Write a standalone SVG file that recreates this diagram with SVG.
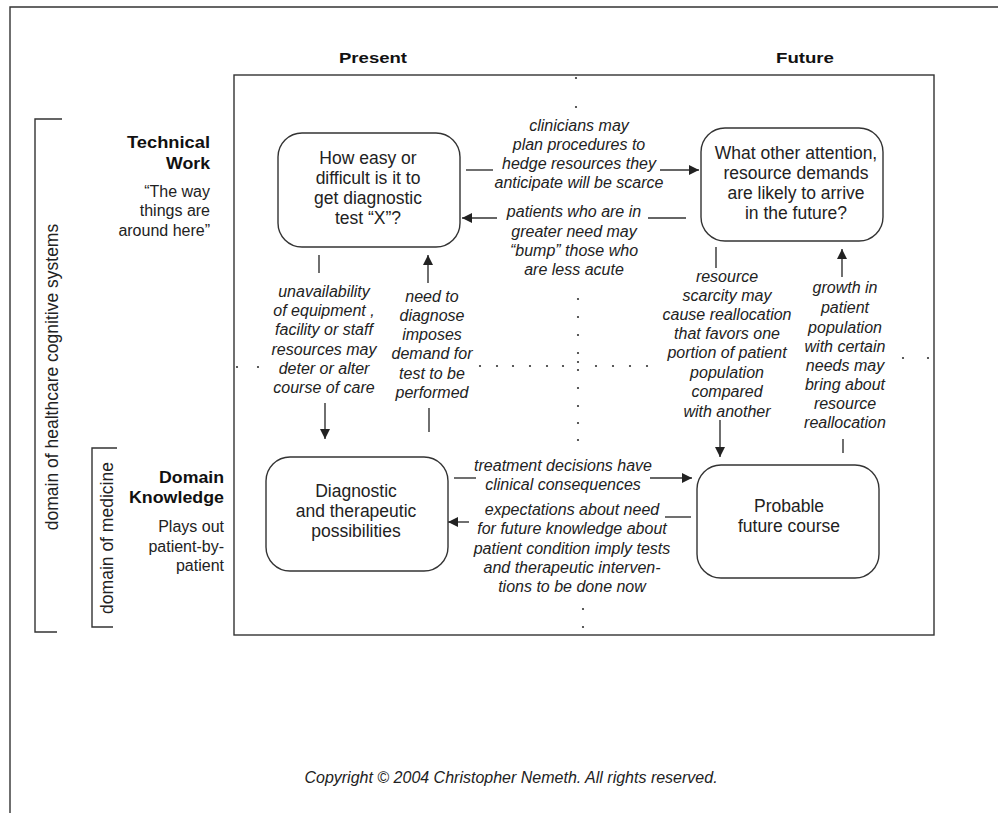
<svg xmlns="http://www.w3.org/2000/svg" width="998" height="813" viewBox="0 0 998 813">
<defs>
<style>
.ln{stroke:#333;stroke-width:1.4;fill:none}
.node{fill:#fff;stroke:#333;stroke-width:1.4}
.nt{font-family:"Liberation Sans",Arial,sans-serif;font-size:17.5px;fill:#222;text-anchor:middle}
.lb{font-family:"Liberation Sans",Arial,sans-serif;font-size:16px;font-style:italic;fill:#222;text-anchor:middle}
.hd{font-family:"Liberation Sans",Arial,sans-serif;font-weight:bold;fill:#111}
.sd{font-family:"Liberation Sans",Arial,sans-serif;font-size:16px;fill:#222;text-anchor:end}
.rt{font-family:"Liberation Sans",Arial,sans-serif;font-size:17.5px;fill:#222;text-anchor:middle}
.dot{fill:#333}
</style>
<marker id="ah" markerWidth="11" markerHeight="11" refX="10" refY="5" orient="auto" markerUnits="userSpaceOnUse">
<path d="M0,0 L10,5 L0,10 z" fill="#222"/>
</marker>
</defs>
<rect width="998" height="813" fill="#fff"/>
<g id="frame">
<path class="ln" d="M10,813 V7 H998"/>
<rect x="234" y="75" width="700" height="560" class="ln"/>
</g>
<g id="headers">
<text class="hd" x="373" y="63" font-size="15" text-anchor="middle" textLength="68" lengthAdjust="spacingAndGlyphs">Present</text>
<text class="hd" x="805" y="63" font-size="15" text-anchor="middle" textLength="58" lengthAdjust="spacingAndGlyphs">Future</text>
</g>
<g id="brackets">
<path class="ln" d="M62,119 H35 V632 H57"/>
<text class="rt" transform="translate(58,377) rotate(-90)">domain of healthcare cognitive systems</text>
<path class="ln" d="M117,448 H92 V627 H113"/>
<text class="rt" transform="translate(113,538) rotate(-90)">domain of medicine</text>
</g>
<g id="row-labels">
<text class="hd" x="210" y="148" font-size="16" text-anchor="end" textLength="83" lengthAdjust="spacingAndGlyphs">Technical</text>
<text class="hd" x="210" y="169" font-size="16" text-anchor="end" textLength="44" lengthAdjust="spacingAndGlyphs">Work</text>
<text class="sd" x="210" y="197">“The way</text>
<text class="sd" x="210" y="216">things are</text>
<text class="sd" x="210" y="236">around here”</text>
<text class="hd" x="224" y="483" font-size="16" text-anchor="end" textLength="65" lengthAdjust="spacingAndGlyphs">Domain</text>
<text class="hd" x="224" y="503" font-size="16" text-anchor="end" textLength="95" lengthAdjust="spacingAndGlyphs">Knowledge</text>
<text class="sd" x="224" y="532">Plays out</text>
<text class="sd" x="224" y="552">patient-by-</text>
<text class="sd" x="224" y="571">patient</text>
</g>
<g id="grid-dots" class="dot">
<circle cx="576" cy="78" r="1.1"/><circle cx="576" cy="107" r="1.1"/>
<circle cx="578" cy="299" r="1.1"/><circle cx="578" cy="317" r="1.1"/><circle cx="578" cy="335" r="1.1"/><circle cx="578" cy="353" r="1.1"/>
<circle cx="578" cy="362" r="1.1"/><circle cx="578" cy="370" r="1.1"/>
<circle cx="578" cy="388" r="1.1"/><circle cx="578" cy="406" r="1.1"/><circle cx="578" cy="423" r="1.1"/><circle cx="578" cy="440" r="1.1"/>
<circle cx="583" cy="609" r="1.1"/><circle cx="583" cy="627" r="1.1"/>
<circle cx="237" cy="367" r="1.1"/><circle cx="258" cy="367" r="1.1"/>
<circle cx="480" cy="366" r="1.1"/><circle cx="497" cy="366" r="1.1"/><circle cx="513" cy="366" r="1.1"/><circle cx="530" cy="366" r="1.1"/><circle cx="547" cy="366" r="1.1"/><circle cx="563" cy="366" r="1.1"/>
<circle cx="596" cy="366" r="1.1"/><circle cx="613" cy="366" r="1.1"/><circle cx="630" cy="366" r="1.1"/><circle cx="647" cy="366" r="1.1"/>
<circle cx="903" cy="358" r="1.1"/><circle cx="928" cy="358" r="1.1"/>
</g>
<g id="connectors">
<line class="ln" x1="466" y1="170" x2="493" y2="170"/>
<line class="ln" x1="660" y1="170" x2="699" y2="170" marker-end="url(#ah)"/>
<line class="ln" x1="686" y1="218" x2="648" y2="218"/>
<line class="ln" x1="497" y1="218" x2="462" y2="218" marker-end="url(#ah)"/>
<line class="ln" x1="319" y1="255" x2="319" y2="273"/>
<line class="ln" x1="325" y1="403" x2="325" y2="439" marker-end="url(#ah)"/>
<line class="ln" x1="428" y1="283" x2="428" y2="255" marker-end="url(#ah)"/>
<line class="ln" x1="429" y1="408" x2="429" y2="432"/>
<line class="ln" x1="716" y1="247" x2="716" y2="268"/>
<line class="ln" x1="720" y1="420" x2="720" y2="457" marker-end="url(#ah)"/>
<line class="ln" x1="842" y1="277" x2="842" y2="249" marker-end="url(#ah)"/>
<line class="ln" x1="843" y1="439" x2="843" y2="453"/>
<line class="ln" x1="454" y1="478" x2="476" y2="478"/>
<line class="ln" x1="650" y1="478" x2="692" y2="478" marker-end="url(#ah)"/>
<line class="ln" x1="691" y1="517" x2="665" y2="517"/>
<line class="ln" x1="469" y1="522" x2="448" y2="522" marker-end="url(#ah)"/>
</g>
<g id="connector-labels">
<text class="lb" x="579" y="131">clinicians may</text>
<text class="lb" x="579" y="150">plan procedures to</text>
<text class="lb" x="579" y="169">hedge resources they</text>
<text class="lb" x="579" y="188">anticipate will be scarce</text>
<text class="lb" x="574" y="217">patients who are in</text>
<text class="lb" x="574" y="237">greater need may</text>
<text class="lb" x="574" y="256">“bump” those who</text>
<text class="lb" x="574" y="275">are less acute</text>
<text class="lb" x="324" y="297">unavailability</text>
<text class="lb" x="324" y="316">of equipment ,</text>
<text class="lb" x="324" y="335">facility or staff</text>
<text class="lb" x="324" y="355">resources may</text>
<text class="lb" x="324" y="374">deter or alter</text>
<text class="lb" x="324" y="393">course of care</text>
<text class="lb" x="432" y="302">need to</text>
<text class="lb" x="432" y="321">diagnose</text>
<text class="lb" x="432" y="340">imposes</text>
<text class="lb" x="432" y="359">demand for</text>
<text class="lb" x="432" y="379">test  to be</text>
<text class="lb" x="432" y="398">performed</text>
<text class="lb" x="727" y="282">resource</text>
<text class="lb" x="727" y="301">scarcity may</text>
<text class="lb" x="727" y="320">cause reallocation</text>
<text class="lb" x="727" y="339">that favors one</text>
<text class="lb" x="727" y="358">portion of patient</text>
<text class="lb" x="727" y="378">population</text>
<text class="lb" x="727" y="397">compared</text>
<text class="lb" x="727" y="417">with another</text>
<text class="lb" x="845" y="293">growth in</text>
<text class="lb" x="845" y="313">patient</text>
<text class="lb" x="845" y="333">population</text>
<text class="lb" x="845" y="352">with certain</text>
<text class="lb" x="845" y="371">needs may</text>
<text class="lb" x="845" y="390">bring about</text>
<text class="lb" x="845" y="409">resource</text>
<text class="lb" x="845" y="428">reallocation</text>
<text class="lb" x="563" y="471">treatment decisions have</text>
<text class="lb" x="563" y="490">clinical consequences</text>
<text class="lb" x="572" y="515">expectations about need</text>
<text class="lb" x="572" y="534">for future knowledge about</text>
<text class="lb" x="572" y="554">patient condition imply tests</text>
<text class="lb" x="572" y="573">and therapeutic interven-</text>
<text class="lb" x="572" y="592">tions to be done now</text>
</g>
<g id="node-test">
<rect class="node" x="278" y="133" width="182" height="114" rx="24"/>
<text class="nt" x="368" y="164">How easy or</text>
<text class="nt" x="368" y="184">difficult is it to</text>
<text class="nt" x="368" y="204">get diagnostic</text>
<text class="nt" x="368" y="224">test “X”?</text>
</g>
<g id="node-demands">
<rect class="node" x="701" y="128" width="182" height="113" rx="24"/>
<text class="nt" x="796" y="159">What other attention,</text>
<text class="nt" x="796" y="179">resource demands</text>
<text class="nt" x="796" y="199">are likely to arrive</text>
<text class="nt" x="796" y="219">in the future?</text>
</g>
<g id="node-possibilities">
<rect class="node" x="266" y="457" width="182" height="114" rx="24"/>
<text class="nt" x="356" y="497">Diagnostic</text>
<text class="nt" x="356" y="517">and  therapeutic</text>
<text class="nt" x="356" y="537">possibilities</text>
</g>
<g id="node-future">
<rect class="node" x="697" y="465" width="182" height="113" rx="24"/>
<text class="nt" x="789" y="512">Probable</text>
<text class="nt" x="789" y="532">future course</text>
</g>
<g id="footer">
<text class="lb" x="511" y="783" style="font-size:16px">Copyright © 2004 Christopher Nemeth. All rights reserved.</text>
</g>
</svg>
